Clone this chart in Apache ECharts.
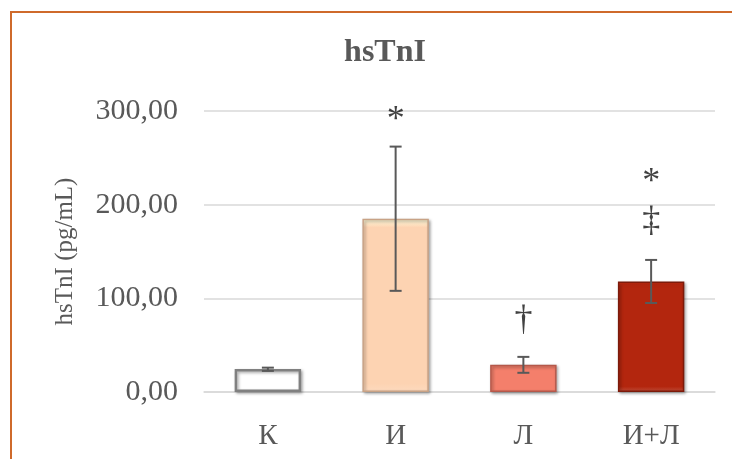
<!DOCTYPE html>
<html>
<head>
<meta charset="utf-8">
<script src="https://cdn.jsdelivr.net/npm/echarts@6/dist/echarts.min.js"></script>
<style>
  html, body { margin: 0; padding: 0; background: #ffffff; }
  #chart { width: 732px; height: 459px; }
</style>
</head>
<body>
<div id="chart"></div>
<script>
// Groups and mean hsTnI concentrations (pg/mL)
const categories = ['К', 'И', 'Л', 'И+Л'];
const means = [24.5, 185, 29, 118];
// Error bar ends (pg/mL)
const errLow = [22.5, 108, 20.5, 95];
const errHigh = [26, 262, 37.5, 141];
// Significance marks: group, height (pg/mL), symbol
const markGroups = ['И', 'Л', 'И+Л', 'И+Л'];
const markValues = [300, 76, 234, 182];
const markTexts = ['*', '†', '*', '‡'];
// Y axis ticks
const yTicks = [0, 100, 200, 300];

const fills = ['#ffffff', '#fdd3b2', '#f47f6b', '#b3260e'];
const edges = ['#808080', '#c8a285', '#b5584a', '#7c1a0a'];

const serif = '"Liberation Serif", "Times New Roman", serif';
const grey = '#595959';

const chart = echarts.init(document.getElementById('chart'), null, { renderer: 'canvas' });

// bevelled look: a lighter band along the top, a darker one along the bottom
const barData = means.map((v, i) => ({
  value: v,
  itemStyle: {
    color: {
      type: 'linear', x: 0, y: 0, x2: 0, y2: 1,
      colorStops: [
        { offset: 0, color: i === 0 ? '#ffffff' : echarts.color.lift(fills[i], -0.25) },
        { offset: 0.05, color: fills[i] },
        { offset: 0.95, color: fills[i] },
        { offset: 1, color: i === 0 ? '#ececec' : echarts.color.lift(fills[i], 0.18) }
      ]
    },
    borderColor: edges[i],
    borderWidth: i === 0 ? 2.5 : 1.5,
    shadowColor: 'rgba(0,0,0,0.35)',
    shadowBlur: 3,
    shadowOffsetX: 1.5,
    shadowOffsetY: 1.5
  }
}));

// the asterisk sits high in its line box, so push it down a little
const glyphShift = { '*': 10, '†': 0, '‡': 0 };

chart.setOption({
  animation: false,
  backgroundColor: '#ffffff',
  title: {
    text: 'hsTnI',
    left: 380,
    top: 32,
    textAlign: 'center',
    textStyle: { fontFamily: serif, fontSize: 32, fontWeight: 'bold', color: grey }
  },
  graphic: [{
    type: 'rect',
    shape: { x: 11, y: 12, width: 800, height: 500 },
    style: { fill: 'none', stroke: '#cf6a2b', lineWidth: 2 },
    silent: true,
    z: 100
  }],
  grid: { left: 204, right: 17, top: 111, bottom: 67 },
  xAxis: {
    type: 'category',
    data: categories,
    axisLine: { show: true, lineStyle: { color: '#d9d9d9', width: 1.5 } },
    axisTick: { show: false },
    axisLabel: { fontFamily: serif, fontSize: 29, color: grey, margin: 30 }
  },
  yAxis: {
    type: 'value',
    min: yTicks[0],
    max: yTicks[yTicks.length - 1],
    interval: yTicks[1] - yTicks[0],
    name: 'hsTnI (pg/mL)',
    nameLocation: 'middle',
    nameGap: 126,
    nameTextStyle: { fontFamily: serif, fontSize: 25, color: grey },
    axisLine: { show: false },
    axisTick: { show: false },
    axisLabel: {
      fontFamily: serif, fontSize: 30, color: grey, margin: 26,
      formatter: v => v.toFixed(2).replace('.', ',')
    },
    splitLine: { lineStyle: { color: '#d9d9d9', width: 1.5 } }
  },
  series: [
    {
      type: 'bar',
      data: barData,
      barWidth: '52%',
      z: 2
    },
    {
      type: 'custom',
      z: 5,
      data: categories.map((c, i) => [i, errLow[i], errHigh[i]]),
      renderItem: function (params, api) {
        const x = api.coord([api.value(0), 0])[0];
        const yLo = api.coord([api.value(0), api.value(1)])[1];
        const yHi = api.coord([api.value(0), api.value(2)])[1];
        const half = 6;
        const style = { stroke: '#595959', lineWidth: 2 };
        return {
          type: 'group',
          children: [
            { type: 'line', shape: { x1: x, y1: yLo, x2: x, y2: yHi }, style: style },
            { type: 'line', shape: { x1: x - half, y1: yLo, x2: x + half, y2: yLo }, style: style },
            { type: 'line', shape: { x1: x - half, y1: yHi, x2: x + half, y2: yHi }, style: style }
          ]
        };
      }
    },
    {
      type: 'scatter',
      z: 6,
      symbolSize: 0,
      data: markGroups.map((g, i) => ({
        value: [g, markValues[i]],
        name: markTexts[i],
        label: { offset: [0, glyphShift[markTexts[i]]] }
      })),
      label: {
        show: true,
        position: 'inside',
        formatter: p => p.name,
        fontFamily: serif,
        fontSize: 36,
        color: '#111111'
      }
    }
  ]
});
</script>
</body>
</html>
